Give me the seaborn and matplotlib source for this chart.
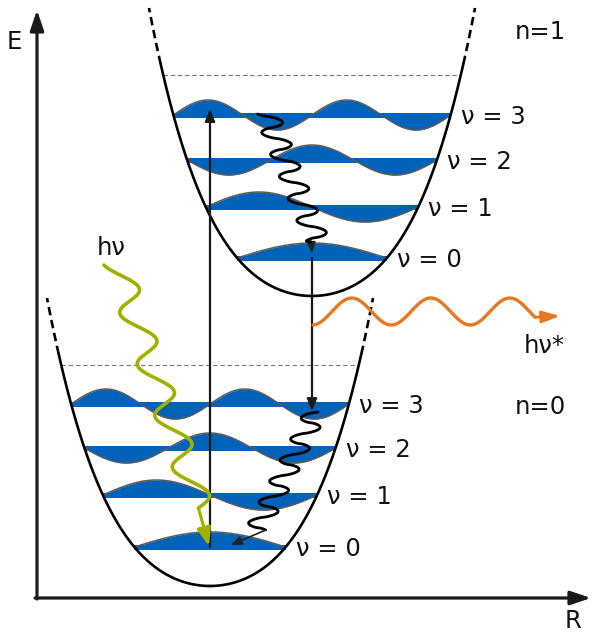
import numpy as np
import matplotlib
matplotlib.use("Agg")
import matplotlib.pyplot as plt
import seaborn as sns

# ---------------- data (diagram units: x = R, y = E) ----------------
well_names = ["n=0", "n=1"]
well_R0 = [210, 312]            # equilibrium R of each electronic state
well_E0 = [47, 337]             # minimum energy of each state
vib_lower = [39, 91, 138, 182]  # vibrational levels above minimum, n=0
vib_upper = [38, 89, 136, 181]  # vibrational levels above minimum, n=1
vib_labels = ["ν = 0", "ν = 1", "ν = 2", "ν = 3"]
vib_parity = [1, 1, -1, 1]
dissoc_dE = [221, 221]
pot_a, pot_b = 0.0057, 1.935e-7  # potential shape  dE = a h^2 + b h^4
pot_top = 288
pot_solid_max = 232

BLUE = "#0062b8"
YEL = "#a2b000"
ORA = "#e87722"
H = 633

sns.set_theme(style="white")
plt.rcParams["font.family"] = ["DejaVu Sans"]

fig = plt.figure(figsize=(5.92, 6.33), dpi=100)
ax = fig.add_axes([0, 0, 1, 1])
ax.set_xlim(0, 592)
ax.set_ylim(0, H)
ax.axis("off")

hh = np.linspace(0, 200, 4001)
dEh = pot_a * hh**2 + pot_b * hh**4


def half_width(dE):
    return np.interp(dE, dEh, hh)


def line(x, y, **kw):
    sns.lineplot(x=np.asarray(x), y=np.asarray(y), sort=False, estimator=None,
                 ax=ax, **kw)


def arrow(p0, p1, color="k", lw=1.5, ms=10, hl=0.72, hw=0.3, z=6):
    ax.annotate("", xy=p1, xytext=p0,
                arrowprops=dict(arrowstyle=f"-|>,head_length={hl},head_width={hw}",
                                color=color, lw=lw, mutation_scale=ms,
                                shrinkA=0, shrinkB=0), zorder=z)


def sharp_sin(p):
    s = np.sin(p)
    return np.sign(s) * np.abs(s) ** 0.7


levels_all = [vib_lower, vib_upper]
for w in range(2):
    R0, E0 = well_R0[w], well_E0[w]
    # potential curve
    hmax = half_width(pot_top)
    hs = half_width(pot_solid_max)
    for sgn in (-1, 1):
        h1 = np.linspace(0, hs, 200)
        line(R0 + sgn * h1, E0 + pot_a * h1**2 + pot_b * h1**4,
             color="black", linewidth=1.9, zorder=4)
        h2 = np.linspace(hs, hmax, 60)
        line(R0 + sgn * h2, E0 + pot_a * h2**2 + pot_b * h2**4,
             color="black", linewidth=1.9, zorder=4, linestyle=(0, (3.2, 1.8)))
    # dissociation dashed line
    hd = half_width(dissoc_dE[w])
    ax.plot([R0 - hd, R0 + hd], [E0 + dissoc_dE[w]] * 2, color="#777777",
            lw=0.8, ls=(0, (4, 2.5)), zorder=3)
    # vibrational levels with wavefunctions
    for v, dE in enumerate(levels_all[w]):
        he = half_width(dE)
        xl, xr = R0 - he, R0 + he
        x = np.linspace(xl, xr, 300)
        t = (x - xl) / (xr - xl)
        psi = vib_parity[v] * np.sin((v + 1) * np.pi * t)
        E = E0 + dE
        yw = E + 15 * psi
        ax.fill_between(x, E - 2.5, E + 2.5, color=BLUE, lw=0, zorder=2)
        ax.fill_between(x, E, yw, color=BLUE, lw=0, zorder=2)
        line(x, yw, color="#5c5c5c", linewidth=1.1, zorder=2.5)
        ax.text(xr + 10, E - 9, vib_labels[v], fontsize=17.5, ha="left",
                va="baseline", color="#111111", zorder=7)

# axes arrows
arrow((37, H - 599), (37, H - 10), lw=2.3, ms=15.3, hl=0.8, hw=0.27)
arrow((35, H - 598), (591, H - 598), lw=2.3, ms=15.3, hl=0.8, hw=0.27)

# vertical transitions
E_abs0 = well_E0[0] + vib_lower[0]
E_abs1 = well_E0[1] + vib_upper[3]
arrow((210, E_abs0), (210, E_abs1 + 6), lw=1.6, ms=10)
E_em0 = well_E0[1] + vib_upper[0]
E_em1 = well_E0[0] + vib_lower[3]
arrow((312, E_em0), (312, E_em1 - 7), lw=1.6, ms=10)

# upper relaxation (wavy, black)
y = np.linspace(114, 241, 400)
xc = 276 + 0.398 * (y - 137)
x = xc + 12.5 * sharp_sin(2 * np.pi * (y - 111) / 22 - np.pi / 2)
line(x, H - y, color="black", linewidth=2.0, zorder=6)
arrow((311, H - y[-1]), (312, H - 253), color="#222222", lw=1.2, ms=9)
line([x[-1], 311], [H - y[-1], H - y[-1] - 1], color="black", linewidth=2.0, zorder=6)

# lower relaxation (wavy, black)
y = np.linspace(412, 530, 400)
xc = 312 - 0.5 * (y - 420)
x = xc + 12 * sharp_sin(2 * np.pi * (y - 428) / 21 + np.pi / 2)
line(x, H - y, color="black", linewidth=2.0, zorder=6)
arrow((x[-1], H - y[-1]), (231, H - 545), color="#222222", lw=1.2, ms=9)

# absorbed photon (yellow-green)
y = np.linspace(265, 508, 400)
x = 169 + 0.34 * (y - 417) - 14 * np.cos(2 * np.pi * (y - 417) / 51.5)
line(x, H - y, color=YEL, linewidth=2.6, zorder=6)
arrow((x[-1], H - y[-1]), (209, H - 546), color=YEL, lw=2.2, ms=12, hl=0.9, hw=0.35)

# emitted photon (orange)
x = np.linspace(313, 535, 400)
y = 311.5 - 13.5 * np.sin(2 * np.pi * (x - 332) / 79)
line(x, H - y, color=ORA, linewidth=2.4, zorder=6)
arrow((x[-1], H - y[-1]), (560, H - 316), color=ORA, lw=2.0, ms=12, hl=0.9, hw=0.3)

# texts
tk = dict(fontsize=17.5, ha="left", va="baseline", color="#111111")
ax.text(7, H - 49, "E", **tk)
ax.text(565, H - 628, "R", **tk)
ax.text(515, H - 39, "n=1", **tk)
ax.text(515, H - 414, "n=0", **tk)
ax.text(97, H - 255, "hν", **tk)
ax.text(524, H - 353, "hν*", **tk)

fig.savefig("out.png", dpi=100)
